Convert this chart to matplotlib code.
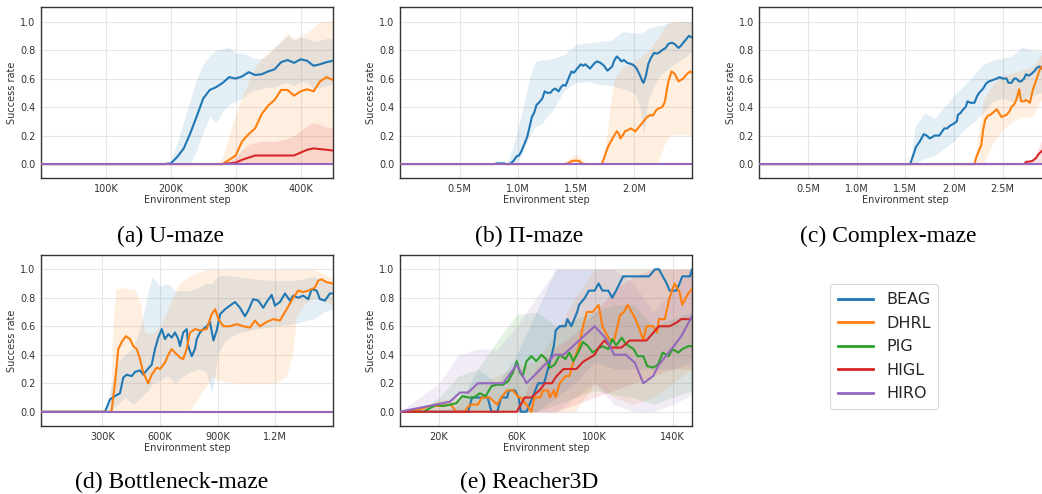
import numpy as np
import matplotlib
matplotlib.use("Agg")
import matplotlib.pyplot as plt
from matplotlib.lines import Line2D

# ---------------- data ----------------
methods = ["BEAG", "DHRL", "PIG", "HIGL", "HIRO"]
colors = {"BEAG": "#1f77b4", "DHRL": "#ff7f0e", "PIG": "#2ca02c", "HIGL": "#d62728", "HIRO": "#9467bd"}
y_ticks = [0.0, 0.2, 0.4, 0.6, 0.8, 1.0]

# (a) U-maze, steps in K
a_x = [0, 10, 20, 30, 40, 50, 60, 70, 80, 90, 100, 110, 120, 130, 140, 150, 160, 170, 180, 190,
       200, 210, 220, 230, 240, 250, 260, 270, 280, 290, 300, 310, 320, 330, 340, 350, 360, 370,
       380, 390, 400, 410, 420, 430, 440, 450]
a_beag = [0] * 20 + [0.005, 0.05, 0.11, 0.215, 0.335, 0.46, 0.52, 0.54, 0.57, 0.61, 0.60, 0.615,
                     0.645, 0.625, 0.63, 0.65, 0.665, 0.715, 0.73, 0.71, 0.735, 0.725, 0.69, 0.70, 0.715, 0.725]
a_beag_hi = [0] * 20 + [0.02, 0.15, 0.3, 0.45, 0.6, 0.7, 0.76, 0.80, 0.81, 0.82, 0.78, 0.78,
                        0.76, 0.74, 0.74, 0.77, 0.82, 0.86, 0.90, 0.87, 0.89, 0.88, 0.86, 0.87, 0.88, 0.88]
a_beag_lo = [0] * 24 + [0.1, 0.22, 0.33, 0.29, 0.37, 0.42, 0.44, 0.46, 0.50, 0.52, 0.53, 0.54,
                        0.54, 0.56, 0.57, 0.55, 0.58, 0.57, 0.53, 0.54, 0.55, 0.56]
a_dhrl = [0] * 29 + [0.03, 0.06, 0.16, 0.21, 0.25, 0.35, 0.41, 0.45, 0.52, 0.52, 0.48, 0.51,
                     0.525, 0.51, 0.58, 0.61, 0.59]
a_dhrl_hi = [0] * 28 + [0.05, 0.2, 0.35, 0.47, 0.58, 0.68, 0.74, 0.78, 0.82, 0.86, 0.92, 0.88,
                        0.9, 0.92, 0.96, 1.0, 1.0, 1.0]
a_dhrl_lo = [0] * 46
a_higl = [0] * 29 + [0.005, 0.01, 0.03, 0.045, 0.06, 0.06, 0.06, 0.06, 0.06, 0.06, 0.06, 0.08,
                     0.1, 0.11, 0.105, 0.1, 0.095]
a_higl_hi = [0] * 29 + [0.02, 0.05, 0.1, 0.14, 0.15, 0.16, 0.16, 0.16, 0.17, 0.18, 0.2, 0.23,
                        0.27, 0.29, 0.28, 0.26, 0.25]
a_higl_lo = [0] * 46
a_hiro = [0] * 46

# (b) Pi-maze, steps in M
b_beag_x = [0, 0.8, 0.82, 0.88, 0.9, 0.93, 0.96, 0.99, 1.01, 1.03, 1.05, 1.08, 1.10, 1.12, 1.14, 1.16,
            1.18, 1.21, 1.23, 1.25, 1.28, 1.30, 1.32, 1.35, 1.37, 1.39, 1.41, 1.43, 1.46, 1.48, 1.51,
            1.54, 1.56, 1.58, 1.60, 1.62, 1.64, 1.66, 1.68, 1.71, 1.74, 1.77, 1.79, 1.81, 1.83, 1.85,
            1.87, 1.89, 1.91, 1.94, 1.96, 1.98, 2.00, 2.02, 2.05, 2.07, 2.08, 2.10, 2.12, 2.14, 2.17,
            2.19, 2.21, 2.24, 2.27, 2.29, 2.31, 2.33, 2.35, 2.38, 2.40, 2.42, 2.45, 2.47, 2.5]
b_beag = [0, 0, 0.005, 0.005, 0, 0, 0.02, 0.055, 0.06, 0.09, 0.13, 0.19, 0.26, 0.33, 0.36, 0.415,
          0.43, 0.46, 0.51, 0.50, 0.50, 0.52, 0.53, 0.51, 0.54, 0.555, 0.55, 0.59, 0.65, 0.64, 0.67,
          0.70, 0.69, 0.70, 0.685, 0.67, 0.69, 0.71, 0.72, 0.71, 0.69, 0.655, 0.67, 0.685, 0.73, 0.755,
          0.74, 0.72, 0.73, 0.71, 0.705, 0.70, 0.69, 0.67, 0.62, 0.58, 0.57, 0.62, 0.70, 0.74, 0.78,
          0.775, 0.78, 0.80, 0.815, 0.84, 0.85, 0.85, 0.84, 0.815, 0.83, 0.85, 0.88, 0.90, 0.885]
b_beag_band_x = [0, 0.9, 0.95, 1.0, 1.05, 1.1, 1.15, 1.2, 1.3, 1.4, 1.5, 1.6, 1.7, 1.8, 1.9, 2.0,
                 2.05, 2.08, 2.12, 2.2, 2.3, 2.4, 2.5]
b_beag_hi = [0, 0, 0.1, 0.25, 0.42, 0.6, 0.72, 0.73, 0.74, 0.77, 0.84, 0.85, 0.86, 0.87, 0.93, 0.92,
             0.92, 0.93, 0.95, 0.97, 0.99, 1.0, 1.0]
b_beag_lo = [0, 0, 0, 0.02, 0.1, 0.2, 0.26, 0.28, 0.38, 0.52, 0.57, 0.58, 0.56, 0.55, 0.53, 0.5,
             0.4, 0.2, 0.45, 0.6, 0.68, 0.73, 0.79]
b_dhrl_x = [0, 1.40, 1.43, 1.46, 1.50, 1.53, 1.55, 1.57, 1.72, 1.74, 1.76, 1.78, 1.80, 1.82, 1.85,
            1.87, 1.88, 1.90, 1.92, 1.95, 1.97, 1.99, 2.01, 2.03, 2.05, 2.07, 2.09, 2.11, 2.14, 2.16,
            2.19, 2.21, 2.24, 2.26, 2.27, 2.29, 2.32, 2.35, 2.38, 2.40, 2.42, 2.45, 2.48, 2.5]
b_dhrl = [0, 0, 0.005, 0.02, 0.025, 0.02, 0.005, 0, 0, 0.04, 0.09, 0.13, 0.16, 0.19, 0.23, 0.21,
          0.18, 0.2, 0.23, 0.24, 0.25, 0.24, 0.23, 0.25, 0.27, 0.29, 0.31, 0.33, 0.345, 0.34, 0.38,
          0.39, 0.40, 0.43, 0.47, 0.57, 0.65, 0.63, 0.58, 0.59, 0.60, 0.63, 0.65, 0.64]
b_dhrl_band_x = [0, 1.4, 1.45, 1.5, 1.55, 1.6, 1.72, 1.75, 1.78, 1.8, 1.83, 1.9, 2.0, 2.1, 2.2,
                 2.25, 2.3, 2.4, 2.5]
b_dhrl_hi = [0, 0, 0.05, 0.07, 0.04, 0, 0, 0.12, 0.3, 0.45, 0.6, 0.68, 0.72, 0.78, 0.88, 0.95,
             1.0, 1.0, 1.0]
b_dhrl_lo = [0, 0, 0, 0, 0, 0, 0, 0, 0, 0, 0, 0, 0, 0, 0, 0.12, 0.2, 0.21, 0.2]
b_hiro_x = [0, 2.5]
b_hiro = [0, 0]

# (c) Complex-maze, steps in M
c_beag_x = [0, 1.55, 1.58, 1.61, 1.65, 1.69, 1.72, 1.75, 1.78, 1.80, 1.85, 1.88, 1.90, 1.93, 1.96,
            1.99, 2.01, 2.03, 2.04, 2.07, 2.09, 2.12, 2.14, 2.17, 2.21, 2.24, 2.26, 2.30, 2.33, 2.36,
            2.40, 2.44, 2.47, 2.50, 2.54, 2.56, 2.59, 2.62, 2.64, 2.67, 2.69, 2.72, 2.74, 2.77, 2.80,
            2.83, 2.85, 2.88, 2.90, 2.95, 3.0]
c_beag = [0, 0, 0.06, 0.12, 0.16, 0.21, 0.20, 0.18, 0.19, 0.20, 0.20, 0.23, 0.25, 0.25, 0.27, 0.28,
          0.29, 0.30, 0.345, 0.36, 0.38, 0.40, 0.44, 0.43, 0.43, 0.48, 0.50, 0.53, 0.565, 0.58, 0.59,
          0.60, 0.61, 0.60, 0.60, 0.57, 0.57, 0.60, 0.60, 0.58, 0.58, 0.60, 0.63, 0.62, 0.635, 0.655,
          0.675, 0.685, 0.67, 0.68, 0.69]
c_beag_band_x = [0, 1.55, 1.6, 1.7, 1.8, 1.9, 2.0, 2.1, 2.2, 2.3, 2.4, 2.5, 2.6, 2.7, 2.8, 2.9, 3.0]
c_beag_hi = [0, 0, 0.26, 0.36, 0.32, 0.4, 0.48, 0.55, 0.62, 0.70, 0.73, 0.74, 0.76, 0.82, 0.80, 0.79, 0.8]
c_beag_lo = [0, 0, 0, 0.04, 0.06, 0.11, 0.16, 0.24, 0.29, 0.36, 0.44, 0.46, 0.44, 0.45, 0.48, 0.5, 0.52]
c_dhrl_x = [0, 2.21, 2.23, 2.26, 2.28, 2.30, 2.32, 2.35, 2.37, 2.40, 2.44, 2.47, 2.49, 2.52, 2.54,
            2.57, 2.59, 2.62, 2.64, 2.67, 2.69, 2.72, 2.74, 2.76, 2.78, 2.81, 2.83, 2.85, 2.88, 2.90,
            2.95, 3.0]
c_dhrl = [0, 0, 0.05, 0.1, 0.13, 0.24, 0.31, 0.34, 0.345, 0.36, 0.385, 0.35, 0.33, 0.34, 0.345,
          0.37, 0.40, 0.42, 0.45, 0.525, 0.44, 0.44, 0.45, 0.44, 0.43, 0.52, 0.56, 0.60, 0.66, 0.68,
          0.72, 0.75]
c_dhrl_band_x = [0, 2.21, 2.25, 2.3, 2.4, 2.5, 2.6, 2.7, 2.8, 2.9, 3.0]
c_dhrl_hi = [0, 0, 0.2, 0.45, 0.56, 0.62, 0.64, 0.66, 0.68, 0.77, 0.85]
c_dhrl_lo = [0, 0, 0, 0, 0.15, 0.24, 0.3, 0.33, 0.33, 0.45, 0.55]
c_higl_x = [0, 2.72, 2.74, 2.80, 2.84, 2.87, 2.90, 2.95, 3.0]
c_higl = [0, 0, 0.015, 0.02, 0.04, 0.07, 0.09, 0.12, 0.15]
c_higl_band_x = [0, 2.72, 2.8, 2.85, 2.9, 3.0]
c_higl_hi = [0, 0, 0.03, 0.08, 0.17, 0.25]
c_higl_lo = [0, 0, 0, 0, 0, 0]
c_hiro_x = [0, 3.0]
c_hiro = [0, 0]

# (d) Bottleneck-maze, steps in K
d_beag_x = [-19, 314, 340, 366, 392, 409, 427, 453, 470, 496, 513, 530, 557, 574, 591, 609, 626, 643,
            661, 678, 695, 704, 721, 739, 747, 765, 782, 791, 808, 825, 843, 860, 878, 895, 913, 939,
            964, 990, 1016, 1042, 1059, 1085, 1111, 1137, 1155, 1181, 1198, 1224, 1250, 1276, 1293,
            1319, 1345, 1371, 1389, 1415, 1432, 1458, 1484, 1500]
d_beag = [0, 0, 0.087, 0.11, 0.13, 0.24, 0.26, 0.25, 0.28, 0.29, 0.26, 0.29, 0.33, 0.44, 0.52, 0.58,
          0.51, 0.545, 0.52, 0.556, 0.51, 0.46, 0.556, 0.58, 0.46, 0.39, 0.44, 0.51, 0.556, 0.58, 0.60,
          0.63, 0.50, 0.57, 0.685, 0.72, 0.745, 0.77, 0.73, 0.67, 0.71, 0.79, 0.78, 0.73, 0.77, 0.82,
          0.745, 0.77, 0.83, 0.78, 0.815, 0.80, 0.815, 0.79, 0.86, 0.85, 0.79, 0.78, 0.83, 0.83]
d_beag_band_x = [-19, 314, 340, 380, 420, 460, 500, 540, 560, 600, 640, 680, 720, 760, 800, 840, 870,
                 880, 900, 940, 1000, 1100, 1200, 1300, 1400, 1450, 1500]
d_beag_hi = [0, 0, 0.15, 0.35, 0.4, 0.45, 0.6, 0.85, 0.95, 0.88, 0.9, 0.85, 0.85, 0.85, 0.87, 0.9,
             0.9, 0.92, 0.95, 0.96, 0.95, 0.93, 0.92, 0.92, 0.95, 0.92, 0.9]
d_beag_lo = [0, 0, 0, 0.05, 0.1, 0.05, 0.1, 0.15, 0.2, 0.22, 0.25, 0.2, 0.25, 0.28, 0.3, 0.28, 0.13,
             0.2, 0.4, 0.5, 0.55, 0.58, 0.6, 0.62, 0.65, 0.7, 0.72]
d_dhrl_x = [-19, 345, 349, 366, 383, 401, 423, 444, 461, 479, 496, 513, 539, 557, 583, 600, 626, 643,
            661, 678, 704, 721, 739, 756, 782, 808, 843, 869, 887, 904, 930, 964, 999, 1033, 1068,
            1094, 1120, 1155, 1189, 1224, 1259, 1293, 1319, 1345, 1371, 1405, 1423, 1440, 1466, 1500]
d_dhrl = [0, 0, 0.016, 0.20, 0.44, 0.49, 0.53, 0.51, 0.46, 0.44, 0.37, 0.275, 0.20, 0.26, 0.31, 0.30,
          0.345, 0.40, 0.44, 0.415, 0.38, 0.37, 0.44, 0.556, 0.58, 0.57, 0.58, 0.685, 0.72, 0.65, 0.60,
          0.60, 0.615, 0.60, 0.59, 0.64, 0.60, 0.63, 0.65, 0.64, 0.72, 0.80, 0.85, 0.84, 0.85, 0.87,
          0.92, 0.93, 0.91, 0.90]
d_dhrl_band_x = [-19, 340, 355, 370, 400, 470, 500, 520, 560, 600, 650, 700, 750, 800, 850, 870, 900,
                 1000, 1100, 1200, 1260, 1290, 1310, 1350, 1400, 1450, 1500]
d_dhrl_hi = [0, 0, 0.6, 0.86, 0.87, 0.86, 0.75, 0.56, 0.55, 0.6, 0.75, 0.9, 0.95, 0.98, 1.0, 1.0,
             1.0, 1.0, 1.0, 1.0, 1.0, 1.0, 1.0, 1.0, 1.0, 0.97, 0.93]
d_dhrl_lo = [0, 0, 0, 0, 0, 0, 0, 0, 0, 0, 0, 0, 0, 0.1, 0.2, 0.25, 0.22, 0.2, 0.2, 0.2, 0.25, 0.4,
             0.67, 0.75, 0.8, 0.78, 0.75]
d_hiro_x = [-19, 1500]
d_hiro = [0, 0]

# (e) Reacher3D, steps in K
e_beag_x = [0, 35, 37, 45, 47, 50, 52, 55, 56, 59, 61, 62, 65, 68, 71, 74, 77, 79, 80, 82, 85, 86, 88,
            91, 92, 95, 97, 100, 102, 104, 107, 109, 111, 114.6, 128, 131, 133, 137, 138.5, 142, 143.6,
            145, 149, 150]
e_beag = [0, 0, 0.1, 0.1, 0, 0, 0.1, 0.1, 0.15, 0.15, 0.1, 0, 0, 0.1, 0.2, 0.2, 0.35, 0.46, 0.57,
          0.6, 0.6, 0.65, 0.6, 0.7, 0.75, 0.8, 0.85, 0.85, 0.9, 0.85, 0.85, 0.8, 0.85, 0.95, 0.95, 1.0,
          1.0, 0.9, 0.85, 0.85, 0.9, 0.95, 0.95, 1.0]
e_dhrl_x = [0, 10, 15, 20, 26, 29, 33, 36, 40, 42, 46, 50, 52, 55, 58, 61, 62, 65, 67.5, 69, 72, 73.5,
            76, 77, 79, 80, 82, 85, 87, 89, 92, 94, 96, 99, 102, 104, 106, 108, 110, 113, 115, 117,
            119, 121, 123, 125, 126.6, 130, 132, 133, 136, 138.5, 141, 143.6, 145, 148, 150]
e_dhrl = [0, 0.015, 0.04, 0.04, 0.05, 0, 0, 0.05, 0.05, 0.1, 0.1, 0.05, 0.1, 0.15, 0.15, 0.1, 0.1,
          0.05, 0, 0.1, 0.1, 0.15, 0.15, 0.1, 0.15, 0.1, 0.2, 0.25, 0.25, 0.35, 0.46, 0.6, 0.7, 0.7,
          0.75, 0.6, 0.545, 0.5, 0.5, 0.675, 0.7, 0.75, 0.7, 0.65, 0.58, 0.5, 0.6, 0.6, 0.556, 0.65,
          0.65, 0.8, 0.9, 0.84, 0.75, 0.83, 0.86]
e_pig_x = [0, 12, 16, 19, 22, 26, 29, 32, 35, 38, 41, 44, 47, 50, 53, 55.6, 58, 60, 61.6, 63, 65,
           67.5, 70, 72.7, 75, 77, 79.5, 82, 85, 87, 89, 91.5, 94, 96.6, 99, 102, 104, 107, 109, 111,
           114, 116, 120, 122, 125, 127, 130, 132.5, 135, 138, 140, 143, 145, 148, 150]
e_pig = [0, 0, 0.03, 0.05, 0.04, 0.05, 0.06, 0.11, 0.1, 0.1, 0.13, 0.11, 0.18, 0.19, 0.19, 0.215,
         0.275, 0.355, 0.275, 0.25, 0.355, 0.39, 0.355, 0.40, 0.37, 0.31, 0.33, 0.40, 0.37, 0.415,
         0.355, 0.415, 0.49, 0.46, 0.415, 0.445, 0.46, 0.44, 0.51, 0.465, 0.52, 0.475, 0.44, 0.39,
         0.39, 0.32, 0.31, 0.33, 0.415, 0.39, 0.44, 0.415, 0.44, 0.46, 0.46]
e_higl_x = [0, 60, 62, 64, 67.5, 72, 74.4, 78, 80.4, 84, 87, 90.6, 94, 100, 102, 105, 108.6, 113.7,
            118, 123, 126.6, 133, 138.5, 142, 144.5, 150]
e_higl = [0, 0, 0.05, 0.1, 0.1, 0.155, 0.2, 0.2, 0.25, 0.3, 0.3, 0.3, 0.35, 0.4, 0.45, 0.5, 0.45,
          0.45, 0.5, 0.5, 0.5, 0.6, 0.6, 0.625, 0.65, 0.65]
e_hiro_x = [0, 25.6, 30.8, 35, 40, 53, 60, 65, 79.5, 84, 100, 106, 110, 116, 120.6, 125, 130, 133,
            140, 144.5, 150]
e_hiro = [0, 0.07, 0.135, 0.135, 0.2, 0.2, 0.33, 0.2, 0.4, 0.4, 0.6, 0.51, 0.4, 0.4, 0.345, 0.2,
          0.25, 0.33, 0.45, 0.53, 0.67]
e_band_x = [0, 10, 20, 30, 40, 50, 60, 70, 80, 90, 100, 110, 120, 130, 140, 150]
e_beag_hi = [0, 0, 0, 0.05, 0.3, 0.2, 0.4, 0.7, 1.0, 1.0, 1.0, 1.0, 1.0, 1.0, 1.0, 1.0]
e_beag_lo = [0, 0, 0, 0, 0, 0, 0, 0, 0.1, 0.2, 0.35, 0.3, 0.3, 0.3, 0.3, 0.35]
e_dhrl_hi = [0, 0.03, 0.08, 0.1, 0.2, 0.25, 0.32, 0.35, 0.55, 0.8, 1.0, 1.0, 1.0, 1.0, 1.0, 1.0]
e_dhrl_lo = [0, 0, 0, 0, 0, 0, 0, 0, 0, 0, 0.2, 0.1, 0.05, 0.1, 0.2, 0.3]
e_pig_hi = [0, 0, 0.1, 0.25, 0.3, 0.5, 0.68, 0.7, 0.6, 0.65, 0.7, 0.75, 0.75, 0.6, 0.65, 0.7]
e_pig_lo = [0, 0, 0, 0, 0, 0, 0, 0, 0.05, 0.1, 0.15, 0.12, 0.1, 0.05, 0.1, 0.15]
e_higl_hi = [0, 0, 0, 0, 0, 0, 0, 0.3, 0.45, 0.55, 0.7, 0.85, 0.95, 1.0, 1.0, 1.0]
e_higl_lo = [0, 0, 0, 0, 0, 0, 0, 0, 0, 0.05, 0.1, 0.15, 0.2, 0.25, 0.3, 0.3]
e_hiro_hi = [0, 0.1, 0.2, 0.4, 0.44, 0.44, 0.6, 0.8, 1.0, 1.0, 1.0, 1.0, 0.9, 0.7, 0.85, 1.0]
e_hiro_lo = [0, 0, 0, 0, 0, 0, 0, 0, 0, 0.1, 0.2, 0.05, 0, 0, 0.05, 0.12]

captions = ["(a) U-maze", "(b) \u03a0-maze", "(c) Complex-maze", "(d) Bottleneck-maze", "(e) Reacher3D"]

# ---------------- figure ----------------
W, H = 1042, 494
fig = plt.figure(figsize=(W / 100, H / 100), dpi=100)
plt.rcParams["font.family"] = ["DejaVu Sans"]


def px_axes(left, top, right, bottom):
    return fig.add_axes([left / W, 1 - bottom / H, (right - left) / W, (bottom - top) / H])


def style(ax, xlim, xticks, xticklabels):
    ax.set_xlim(*xlim)
    ax.set_ylim(-0.1, 1.1)
    ax.set_xticks(xticks)
    ax.set_xticklabels(xticklabels)
    ax.set_yticks(y_ticks)
    ax.set_yticklabels([f"{v:.1f}" for v in y_ticks])
    ax.grid(True, color="#e6e6e6", linewidth=0.8)
    ax.set_axisbelow(True)
    for s in ax.spines.values():
        s.set_color("#333333")
        s.set_linewidth(1.0)
    ax.tick_params(length=0, labelsize=7, colors="#333333", pad=4)
    ax.set_xlabel("Environment step", fontsize=7, color="#333333", labelpad=1)
    ax.set_ylabel("Success rate", fontsize=7, color="#333333", labelpad=2)


def band(ax, x, lo, hi, m, scale):
    ax.fill_between(np.array(x) * scale, lo, hi, color=colors[m], alpha=0.12, linewidth=0, zorder=1)


def line(ax, x, y, m, scale):
    ax.plot(np.array(x) * scale, y, color=colors[m], linewidth=1.5, zorder=3)


K, M = 1e3, 1e6

# (a)
ax = px_axes(41, 7.3, 333, 178.3)
band(ax, a_x, a_beag_lo, a_beag_hi, "BEAG", K)
band(ax, a_x, a_dhrl_lo, a_dhrl_hi, "DHRL", K)
band(ax, a_x, a_higl_lo, a_higl_hi, "HIGL", K)
line(ax, a_x, a_beag, "BEAG", K)
line(ax, a_x, a_dhrl, "DHRL", K)
line(ax, a_x, a_higl, "HIGL", K)
line(ax, a_x, a_hiro, "HIRO", K)
style(ax, (0, 450e3), [100e3, 200e3, 300e3, 400e3], ["100K", "200K", "300K", "400K"])

# (b)
ax = px_axes(400, 7.3, 692, 178.3)
band(ax, b_beag_band_x, b_beag_lo, b_beag_hi, "BEAG", M)
band(ax, b_dhrl_band_x, b_dhrl_lo, b_dhrl_hi, "DHRL", M)
line(ax, b_beag_x, b_beag, "BEAG", M)
line(ax, b_dhrl_x, b_dhrl, "DHRL", M)
line(ax, b_hiro_x, b_hiro, "HIRO", M)
style(ax, (-0.013e6, 2.496e6), [0.5e6, 1.0e6, 1.5e6, 2.0e6], ["0.5M", "1.0M", "1.5M", "2.0M"])

# (c) - extends past the right edge of the figure
ax = px_axes(759.3, 7.3, 1051.3, 178.3)
band(ax, c_beag_band_x, c_beag_lo, c_beag_hi, "BEAG", M)
band(ax, c_dhrl_band_x, c_dhrl_lo, c_dhrl_hi, "DHRL", M)
band(ax, c_higl_band_x, c_higl_lo, c_higl_hi, "HIGL", M)
line(ax, c_beag_x, c_beag, "BEAG", M)
line(ax, c_dhrl_x, c_dhrl, "DHRL", M)
line(ax, c_higl_x, c_higl, "HIGL", M)
line(ax, c_hiro_x, c_hiro, "HIRO", M)
style(ax, (0, 3.0e6), [0.5e6, 1.0e6, 1.5e6, 2.0e6, 2.5e6], ["0.5M", "1.0M", "1.5M", "2.0M", "2.5M"])

# (d)
ax = px_axes(41, 255, 333, 426)
band(ax, d_beag_band_x, d_beag_lo, d_beag_hi, "BEAG", K)
band(ax, d_dhrl_band_x, d_dhrl_lo, d_dhrl_hi, "DHRL", K)
line(ax, d_beag_x, d_beag, "BEAG", K)
line(ax, d_dhrl_x, d_dhrl, "DHRL", K)
line(ax, d_hiro_x, d_hiro, "HIRO", K)
style(ax, (-19e3, 1.5e6), [300e3, 600e3, 900e3, 1.2e6], ["300K", "600K", "900K", "1.2M"])

# (e)
ax = px_axes(400, 255, 692, 426)
band(ax, e_band_x, e_beag_lo, e_beag_hi, "BEAG", K)
band(ax, e_band_x, e_dhrl_lo, e_dhrl_hi, "DHRL", K)
band(ax, e_band_x, e_pig_lo, e_pig_hi, "PIG", K)
band(ax, e_band_x, e_higl_lo, e_higl_hi, "HIGL", K)
band(ax, e_band_x, e_hiro_lo, e_hiro_hi, "HIRO", K)
line(ax, e_beag_x, e_beag, "BEAG", K)
line(ax, e_dhrl_x, e_dhrl, "DHRL", K)
line(ax, e_pig_x, e_pig, "PIG", K)
line(ax, e_higl_x, e_higl, "HIGL", K)
line(ax, e_hiro_x, e_hiro, "HIRO", K)
style(ax, (0, 150e3), [20e3, 60e3, 100e3, 140e3], ["20K", "60K", "100K", "140K"])

# captions
cap_pos = [(170.5, 236), (529, 236), (888, 236), (171.7, 482), (529, 482)]
for (cx, cy), txt in zip(cap_pos, captions):
    fig.text(cx / W, 1 - cy / H, txt, fontsize=17, family="Liberation Serif",
             ha="center", va="center", color="black")

# legend
handles = [Line2D([0], [0], color=colors[m], linewidth=2) for m in methods]
leg = fig.legend(handles, methods, loc="upper left", bbox_to_anchor=(830.0 / W, 1 - 284.3 / H),
                 fontsize=11.5, frameon=True, handlelength=2.2, labelspacing=0.53,
                 borderaxespad=0, borderpad=0.5, handletextpad=0.8, fancybox=True)
leg.get_frame().set_edgecolor("#d0d0d0")
leg.get_frame().set_linewidth(0.8)
for t in leg.get_texts():
    t.set_color("#262626")

fig.savefig("out.png", dpi=100)
